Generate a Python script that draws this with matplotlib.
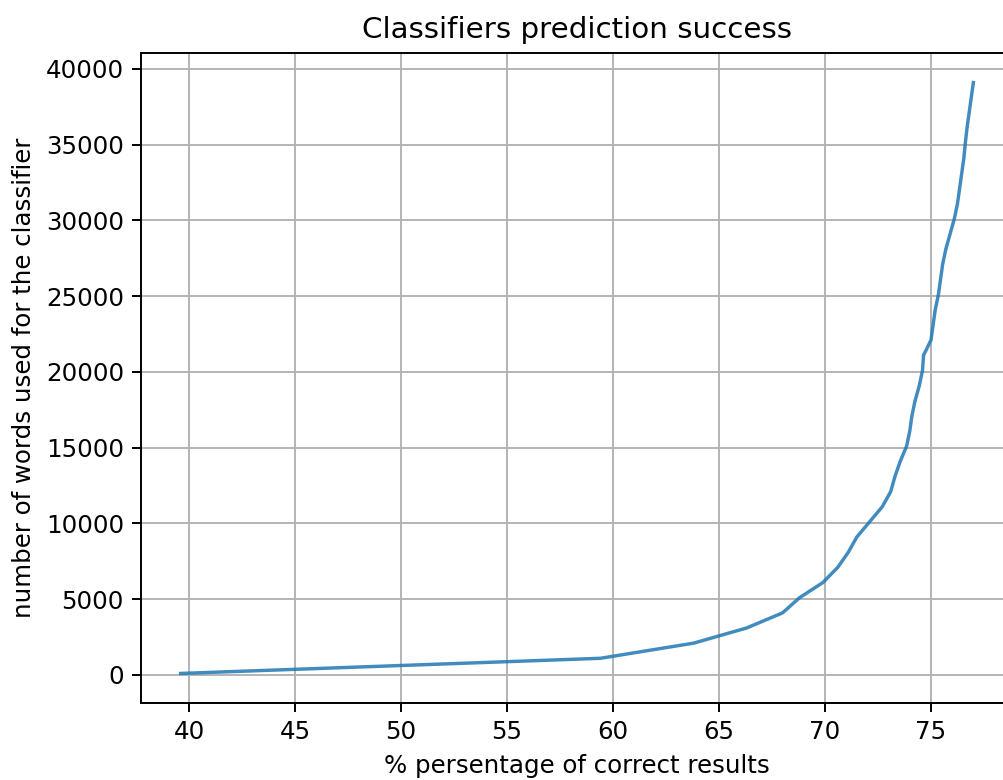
import matplotlib
matplotlib.use("Agg")
import matplotlib.pyplot as plt

# % of correct results vs number of words used
accuracy = [
    39.6, 59.4, 63.8, 66.3, 68.0, 68.8, 69.9, 70.6, 71.1, 71.5,
    72.1, 72.7, 73.1, 73.3, 73.55, 73.85, 74.0, 74.1, 74.25, 74.45,
    74.6, 74.65, 75.0, 75.1, 75.2, 75.35, 75.45, 75.55, 75.7, 75.9,
    76.1, 76.25, 76.35, 76.45, 76.55, 76.62, 76.7, 76.8, 76.9, 77.0,
]
words = [100 + 1000 * i for i in range(len(accuracy))]

DPI = 176
fig = plt.figure(figsize=(1003 / DPI, 780 / DPI), dpi=DPI)
ax = fig.add_axes([141 / 1003, 77 / 780, 872 / 1003, 650 / 780])

ax.plot(accuracy, words, color="#1f77b4", alpha=0.85, linewidth=1.4)
ax.grid(True, linewidth=0.75)
ax.tick_params(labelsize=10)
ax.set_title("Classifiers prediction success", fontsize=12)
ax.set_xlabel("% persentage of correct results")
ax.set_ylabel("number of words used for the classifier")

fig.savefig("out.png", dpi=DPI)
